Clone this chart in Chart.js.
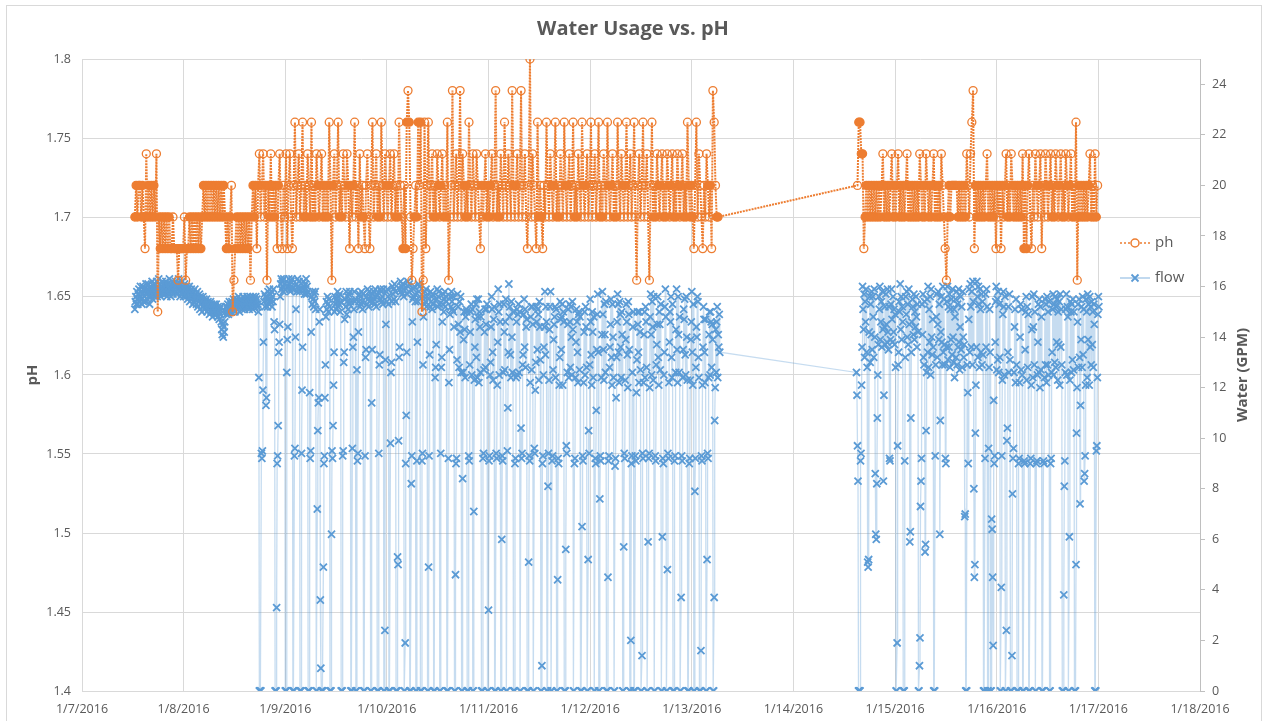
<!DOCTYPE html>
<html>
<head>
<meta charset="utf-8">
<title>Water Usage vs. pH</title>
<script src="https://cdn.jsdelivr.net/npm/chart.js@4.4.1/dist/chart.umd.min.js"></script>
<style>
  html, body { margin: 0; padding: 0; background: #fff; }
  #wrap { width: 1266px; height: 721px; }
</style>
</head>
<body>
<div id="wrap"><canvas id="chart" width="1266" height="721"></canvas></div>
<script>
// x axis labels, one per day starting 1/7/2016
const dayLabels = ['1/7/2016','1/8/2016','1/9/2016','1/10/2016','1/11/2016','1/12/2016',
                   '1/13/2016','1/14/2016','1/15/2016','1/16/2016','1/17/2016','1/18/2016'];

// pH readings, two logging runs (first reading in days after 1/7/2016, fixed interval)
const phRunStart = [0.52, 7.63];
const phInterval = 0.0125;
const phRun1 = [
  1.70,1.72,1.70,1.72,1.72,1.70,1.72,1.70,1.68,1.74,1.70,1.72,1.70,1.72,1.70,1.72,1.70,1.74,1.64,1.70,
  1.68,1.70,1.68,1.70,1.68,1.70,1.68,1.70,1.68,1.68,1.70,1.68,1.68,1.68,1.66,1.68,1.68,1.68,1.68,1.70,
  1.66,1.68,1.68,1.70,1.68,1.70,1.68,1.70,1.68,1.70,1.68,1.70,1.68,1.70,1.72,1.70,1.72,1.70,1.72,1.70,
  1.72,1.70,1.72,1.70,1.72,1.70,1.72,1.70,1.72,1.70,1.72,1.70,1.68,1.70,1.68,1.70,1.72,1.64,1.66,1.68,
  1.70,1.68,1.70,1.68,1.70,1.68,1.70,1.68,1.70,1.68,1.70,1.66,1.70,1.72,1.70,1.72,1.68,1.72,1.74,1.70,
  1.72,1.74,1.70,1.72,1.66,1.72,1.70,1.74,1.70,1.72,1.70,1.72,1.68,1.72,1.74,1.70,1.68,1.72,1.70,1.74,
  1.68,1.72,1.74,1.70,1.68,1.72,1.76,1.70,1.72,1.74,1.70,1.72,1.76,1.70,1.72,1.70,1.74,1.72,1.70,1.76,
  1.70,1.72,1.70,1.74,1.72,1.70,1.72,1.74,1.70,1.72,1.70,1.72,1.70,1.76,1.72,1.66,1.72,1.74,1.70,1.72,
  1.76,1.70,1.72,1.70,1.74,1.72,1.70,1.74,1.72,1.68,1.72,1.70,1.72,1.76,1.70,1.72,1.68,1.74,1.70,1.72,
  1.70,1.68,1.72,1.74,1.70,1.68,1.72,1.76,1.70,1.72,1.74,1.70,1.72,1.70,1.76,1.72,1.70,1.74,1.72,1.70,
  1.72,1.74,1.70,1.72,1.74,1.70,1.72,1.70,1.76,1.72,1.70,1.68,1.72,1.68,1.76,1.78,1.76,1.70,1.66,1.68,
  1.70,1.72,1.70,1.76,1.72,1.76,1.64,1.66,1.76,1.68,1.72,1.76,1.70,1.72,1.74,1.70,1.72,1.70,1.74,1.72,
  1.70,1.72,1.74,1.70,1.72,1.70,1.76,1.66,1.70,1.72,1.78,1.70,1.72,1.74,1.70,1.72,1.78,1.70,1.74,1.72,
  1.70,1.72,1.70,1.76,1.72,1.70,1.74,1.72,1.70,1.74,1.72,1.70,1.68,1.72,1.70,1.72,1.74,1.70,1.72,1.70,
  1.72,1.74,1.70,1.72,1.78,1.70,1.72,1.70,1.74,1.72,1.70,1.76,1.72,1.70,1.74,1.72,1.70,1.78,1.72,1.70,
  1.72,1.74,1.70,1.72,1.78,1.70,1.72,1.74,1.70,1.68,1.72,1.80,1.70,1.74,1.72,1.70,1.68,1.76,1.70,1.72,
  1.70,1.68,1.72,1.70,1.76,1.72,1.70,1.74,1.72,1.70,1.72,1.76,1.70,1.72,1.70,1.74,1.72,1.70,1.76,1.72,
  1.70,1.72,1.74,1.70,1.72,1.76,1.70,1.72,1.70,1.74,1.72,1.70,1.76,1.72,1.70,1.72,1.74,1.70,1.72,1.76,
  1.70,1.72,1.74,1.70,1.72,1.76,1.70,1.72,1.70,1.74,1.72,1.70,1.76,1.72,1.70,1.72,1.74,1.70,1.72,1.70,
  1.76,1.72,1.70,1.74,1.72,1.70,1.72,1.76,1.70,1.72,1.74,1.70,1.72,1.76,1.70,1.66,1.72,1.74,1.70,1.72,
  1.76,1.70,1.72,1.74,1.70,1.66,1.72,1.76,1.70,1.72,1.70,1.74,1.72,1.70,1.72,1.74,1.70,1.72,1.70,1.74,
  1.72,1.70,1.72,1.74,1.70,1.72,1.70,1.74,1.72,1.70,1.72,1.74,1.70,1.72,1.70,1.76,1.72,1.70,1.72,1.70,
  1.68,1.72,1.76,1.70,1.74,1.72,1.70,1.68,1.72,1.70,1.74,1.72,1.70,1.72,1.68,1.78,1.76,1.72,1.70,1.70
];
const phRun2 = [
  1.72,1.76,1.76,1.74,1.74,1.68,1.70,1.72,1.70,1.72,1.70,1.72,1.70,1.72,1.70,1.72,1.70,1.72,1.70,1.72,
  1.74,1.70,1.72,1.70,1.72,1.70,1.72,1.74,1.70,1.72,1.70,1.72,1.74,1.70,1.72,1.70,1.72,1.70,1.72,1.74,
  1.70,1.72,1.70,1.72,1.70,1.72,1.70,1.72,1.70,1.74,1.72,1.70,1.72,1.70,1.74,1.72,1.70,1.72,1.70,1.72,
  1.74,1.70,1.72,1.70,1.72,1.70,1.74,1.72,1.70,1.68,1.66,1.70,1.72,1.70,1.72,1.72,1.72,1.72,1.72,1.70,
  1.72,1.70,1.72,1.70,1.72,1.70,1.74,1.72,1.70,1.74,1.76,1.78,1.68,1.72,1.70,1.72,1.70,1.72,1.70,1.72,
  1.70,1.72,1.74,1.70,1.72,1.70,1.72,1.70,1.72,1.68,1.72,1.70,1.72,1.68,1.72,1.70,1.72,1.74,1.70,1.72,
  1.70,1.74,1.72,1.70,1.72,1.70,1.72,1.70,1.72,1.70,1.74,1.68,1.72,1.68,1.72,1.74,1.70,1.68,1.72,1.70,
  1.74,1.72,1.70,1.72,1.74,1.68,1.72,1.70,1.74,1.72,1.70,1.72,1.74,1.70,1.72,1.70,1.74,1.72,1.70,1.72,
  1.74,1.70,1.72,1.70,1.74,1.72,1.70,1.72,1.74,1.70,1.72,1.70,1.76,1.66,1.72,1.70,1.72,1.70,1.72,1.70,
  1.72,1.70,1.72,1.74,1.70,1.72,1.70,1.74,1.70,1.72
];

// flow readings in GPM, same two runs, finer interval
const flowRunStart = [0.52, 7.62];
const flowInterval = 0.005;
const flowRun1 = [
  15.1,15.4,15.6,15.3,15.8,15.5,15.3,15.7,15.9,15.4,15.6,16.0,15.5,15.8,15.3,15.7,16.0,15.4,15.9,15.6,
  15.8,15.4,16.1,15.7,15.5,15.9,16.1,15.6,15.8,15.3,15.9,16.0,15.6,15.8,16.2,15.5,15.9,15.7,16.0,15.6,
  16.1,15.7,15.9,16.2,15.6,16.0,15.8,16.3,15.7,15.9,16.1,15.6,16.0,15.8,16.2,15.7,15.9,16.1,15.8,16.0,
  15.7,16.2,15.9,15.6,16.1,15.8,16.0,15.7,16.3,15.9,16.1,15.6,16.0,15.8,16.2,15.7,15.9,16.1,15.8,16.0,
  16.2,15.8,16.0,15.7,16.1,15.9,16.3,15.8,16.0,15.6,16.1,15.9,15.7,16.2,15.8,16.0,15.6,15.9,16.1,15.7,
  15.9,15.6,16.0,15.8,15.5,15.9,15.7,16.0,15.4,15.8,15.6,15.9,15.5,15.7,15.3,15.8,15.6,15.4,15.9,15.5,
  15.7,15.3,15.6,15.8,15.2,15.5,15.4,15.7,15.1,15.6,15.3,15.5,15.0,15.4,15.6,15.2,15.5,15.3,15.1,15.4,
  15.2,15.5,15.0,15.3,15.4,15.1,15.3,14.9,15.2,15.4,15.0,15.3,15.1,14.8,15.2,15.0,15.3,14.9,15.2,15.0,
  15.3,14.9,15.1,14.8,15.2,15.0,14.7,15.1,14.9,15.2,14.6,14.3,14.1,14.5,14.0,14.4,14.2,14.6,15.0,15.2,
  14.9,15.2,15.0,15.3,14.9,15.1,15.4,15.0,15.2,15.3,15.0,15.4,15.1,15.3,15.5,15.1,15.3,15.0,15.4,15.2,
  15.5,15.1,15.4,15.2,15.6,15.3,15.0,15.4,15.2,15.5,15.3,15.1,15.4,15.6,15.2,15.4,15.1,15.5,15.3,15.2,
  15.4,15.6,15.2,15.5,15.3,15.1,15.4,15.6,15.2,15.5,15.3,15.4,15.1,15.6,15.3,15.5,15.2,15.4,15.6,15.3,
  15.5,15.2,
  15.3,15.0,12.4,0,0,0,0,9.4,9.2,9.5,11.9,13.8,15.4,15.7,15.2,15.6,11.3,11.6,15.6,15.2,15.8,15.5,15.3,15.9,15.4,15.7,15.5,15.8,15.2,15.6,15.4,15.9,
  14.6,14.3,0,0,0,3.3,9.0,9.3,10.5,13.4,13.8,14.5,15.6,16.1,16.3,15.9,16.2,16.0,15.8,16.3,16.1,15.9,0,0,0,12.6,13.9,14.4,16.0,16.3,16.1,15.9,
  15.8,16.2,16.0,16.3,15.9,0,0,0,9.3,9.6,14.0,15.1,16.1,15.8,16.3,16.0,15.9,16.2,15.8,0,0,0,9.4,11.9,13.6,15.9,16.2,16.0,15.7,16.1,15.9,16.3,
  15.7,16.0,15.8,0,0,0,11.8,9.2,9.5,14.2,15.6,15.3,15.8,15.5,15.2,15.7,15.4,15.8,15.1,0,0,7.2,10.3,11.4,11.6,14.6,15.1,3.6,0.9,0,0,0,
  0,4.9,9.0,9.3,11.6,12.9,14.8,15.4,15.1,15.6,15.3,15.0,15.5,15.2,0,0,0,6.2,9.5,9.2,10.5,12.1,13.4,15.0,15.6,15.3,15.1,15.5,15.4,15.8,15.2,15.6,
  15.3,15.7,15.0,15.4,0,0,0,9.3,9.5,13.0,13.4,14.7,15.5,15.2,15.8,14.9,15.4,15.6,15.1,15.7,15.3,15.8,15.4,0,0,0,9.6,13.6,14.0,15.1,15.8,15.4,
  15.5,0,0,12.7,9.1,9.4,14.2,15.4,15.7,15.2,15.6,15.3,15.8,15.4,15.1,15.7,0,0,0,9.3,13.2,13.5,15.6,15.3,15.9,15.5,15.2,15.8,15.4,15.6,0,0,
  11.4,13.5,15.7,15.4,15.8,15.5,15.3,15.9,15.6,15.2,15.7,0,0,0,9.4,12.9,13.3,15.9,15.5,15.8,15.4,15.6,15.3,15.9,0,0,2.4,13.1,14.5,15.8,15.4,15.9,
  15.6,15.3,0,0,0,9.8,12.6,13.0,15.4,16.0,15.7,15.9,15.5,16.1,15.8,15.4,0,0,0,5.3,5.0,9.9,13.2,13.6,15.9,16.2,15.8,16.0,15.7,16.1,15.9,15.6,
  0,0,1.9,9.0,10.9,13.4,15.7,16.2,16.0,15.8,16.1,0,0,0,8.2,9.3,14.6,15.5,15.9,15.6,16.0,15.7,15.4,0,0,9.1,13.8,15.4,16.1,15.8,16.0,15.6,
  0,0,0,9.1,9.4,12.9,14.8,15.6,15.3,15.8,15.4,15.9,15.2,15.6,0,0,4.9,9.3,13.3,15.2,15.8,15.4,15.6,15.1,15.7,15.3,0,0,0,12.4,12.8,13.7,
  15.5,15.9,15.2,15.6,15.8,15.3,0,0,9.4,12.8,13.2,14.6,15.3,15.7,15.0,15.5,15.8,15.2,15.6,15.4,0,0,0,9.2,12.2,13.5,14.9,15.6,15.2,15.8,15.4,15.1,
  15.6,15.0,14.4,0,0,4.6,9.0,9.2,13.1,15.7,15.2,14.5,12.8,15.4,14.2,15.6,12.6,0,0,8.4,12.6,13.9,15.0,14.3,12.4,14.8,15.1,15.0,0,0,0,9.3,
  9.1,12.9,14.2,15.0,15.3,12.5,15.1,0,0,7.1,12.3,13.6,14.7,15.3,13.2,15.5,12.4,14.8,15.5,12.2,15.0,14.4,12.6,14.8,0,0,0,9.2,9.4,12.7,14.2,15.1,
  12.8,14.5,15.1,15.3,0,0,3.2,9.1,9.3,12.5,13.0,14.4,15.6,15.1,13.4,12.3,14.7,15.2,0,0,0,9.4,9.2,12.1,13.8,15.9,15.0,12.5,15.3,14.6,0,0,
  6.0,9.3,9.1,12.6,15.3,14.2,12.7,14.6,15.5,0,0,9.5,11.2,13.4,16.1,14.8,15.2,13.3,12.4,15.4,14.0,12.6,15.0,0,0,0,9.0,9.2,12.4,14.6,15.1,12.5,
  14.9,15.3,12.6,15.0,0,0,10.4,9.2,9.4,12.9,13.3,14.9,15.5,13.6,15.1,12.8,14.4,14.7,0,0,0,5.1,9.3,9.1,12.2,14.8,15.2,12.7,15.2,14.5,0,0,
  9.6,9.4,11.9,13.0,15.2,14.6,13.5,15.1,14.9,12.3,15.4,14.4,13.1,0,0,1.0,9.0,9.3,12.5,13.6,14.4,15.8,13.3,15.2,14.6,0,0,8.1,9.4,12.3,14.3,15.2,
  15.8,0,0,9.1,9.3,12.7,13.9,14.5,14.8,15.2,12.4,15.1,0,0,4.4,9.2,9.0,12.1,13.2,15.4,14.7,13.5,14.8,15.3,12.1,15.0,14.6,0,0,0,5.6,9.7,
  9.4,12.6,14.5,15.1,12.4,15.3,14.6,12.8,15.2,14.0,12.5,15.4,14.3,0,0,9.0,9.2,12.4,13.8,15.1,14.6,13.4,12.2,14.9,15.0,12.7,14.8,0,0,0,6.5,9.3,
  9.1,12.2,14.2,15.0,12.5,15.2,14.4,12.8,0,0,5.2,10.3,9.4,12.9,15.5,14.6,13.3,12.1,15.0,14.2,12.4,14.8,0,0,9.2,9.0,11.1,13.5,14.9,15.7,13.4,0,
  0,7.6,9.3,9.1,12.4,14.1,15.8,14.9,13.5,12.3,15.3,14.1,12.6,15.4,0,0,0,4.5,9.1,9.3,12.8,13.6,14.5,15.5,13.2,12.1,15.3,14.0,12.4,0,0,8.9,
  9.2,11.6,13.2,14.6,15.7,15.3,13.4,12.2,15.4,14.9,13.6,12.4,15.0,14.1,0,0,5.7,9.4,9.2,12.3,13.9,15.3,14.6,13.3,12.0,15.4,14.9,13.5,0,0,2.0,9.0,
  9.3,12.6,14.4,15.0,0,0,0,9.3,9.1,11.8,13.1,15.0,14.5,13.4,12.2,15.0,14.2,12.7,0,0,1.4,9.4,9.2,12.2,14.1,15.0,12.4,15.2,14.6,12.8,0,0,
  5.9,9.2,9.4,12.0,14.8,15.7,14.1,12.5,15.4,14.4,12.3,15.6,0,0,9.3,9.1,12.9,13.7,14.5,15.6,13.2,12.1,15.0,14.5,12.7,15.3,0,0,6.1,9.2,9.0,12.5,
  13.4,15.2,15.9,14.8,0,0,4.8,9.4,9.2,12.2,13.8,15.0,14.6,15.6,13.2,12.4,15.3,0,0,0,9.1,9.3,12.6,14.3,15.9,13.5,12.2,15.6,14.1,12.6,14.8,0,
  0,3.7,9.3,9.1,12.4,13.5,15.1,14.7,15.5,13.3,12.5,15.6,14.0,12.3,0,0,0,9.0,9.2,12.3,13.9,14.6,15.8,13.4,12.1,15.3,0,0,7.9,9.2,12.8,14.4,
  14.0,15.6,15.4,13.2,12.4,0,0,0,1.6,9.3,9.1,12.1,13.6,15.2,14.7,13.4,12.2,14.7,0,0,5.2,9.4,9.2,12.4,14.1,15.0,12.5,15.0,14.6,12.8,14.5,13.9,
  0,0,3.7,10.7,12.0,14.3,12.6,14.6,15.2,12.4,14.1,13.6,14.9,13.4
];
const flowRun2 = [
  12.6,11.7,9.7,8.3,0,0,0,0,9.1,9.4,12.1,13.6,16.0,15.1,14.3,15.7,13.2,15.4,14.6,15.9,13.4,12.8,5.1,4.9,5.2,14.2,15.6,13.0,15.3,14.1,15.8,13.5,
  15.6,14.8,13.2,15.9,14.0,8.6,6.2,6.0,8.2,10.8,12.5,13.7,15.6,15.1,16.0,13.9,14.6,15.4,13.6,15.8,14.3,8.3,11.7,14.4,15.2,13.7,15.7,14.5,13.8,15.9,14.2,13.5,
  15.2,9.2,9.1,13.9,15.3,15.9,14.7,13.8,15.6,14.2,15.1,13.7,14.9,12.8,0,0,1.9,9.7,12.9,13.4,15.4,15.0,16.1,14.3,15.6,13.9,15.2,14.6,0,0,0,9.1,
  13.2,15.6,14.9,15.8,14.0,15.3,13.7,15.9,14.5,5.9,6.3,10.8,13.4,14.6,15.5,15.2,14.1,15.7,13.9,15.0,14.4,15.6,14.8,13.6,15.3,14.2,0,0,1.0,2.1,7.3,8.3,
  9.2,15.3,14.1,15.7,13.2,12.9,15.4,5.5,5.8,10.3,12.6,15.5,13.4,16.0,12.8,15.1,13.8,15.6,12.5,15.9,14.0,13.3,14.7,13.6,0,0,0,9.3,12.9,14.8,15.7,13.2,
  14.5,15.8,13.9,15.3,6.2,10.7,14.2,15.6,13.8,12.9,16.0,13.4,15.5,13.7,12.9,9.2,9.0,13.6,15.4,16.0,13.1,15.2,13.6,15.7,12.8,15.1,13.9,15.5,13.3,15.9,14.0,13.0,
  15.1,12.4,14.8,15.5,13.2,15.8,12.9,15.3,13.6,15.9,13.8,12.7,14.4,15.6,13.5,15.2,12.8,15.8,14.0,13.2,13.7,6.9,7.0,0,0,0,12.9,11.8,9.0,14.7,15.9,13.4,
  16.1,15.2,13.6,15.8,12.9,16.2,15.4,8.0,4.5,5.0,10.2,12.1,13.6,16.2,15.6,13.2,16.0,15.3,12.8,15.9,15.1,13.4,15.7,12.9,15.4,13.3,0,0,0,9.2,15.7,13.6,
  15.9,15.2,0,0,9.6,12.8,15.1,13.4,0,0,6.8,6.4,4.5,1.8,11.5,9.0,9.3,13.8,15.4,16.0,12.7,15.5,13.1,15.8,12.6,15.3,13.2,0,0,4.1,9.3,12.3,
  14.9,15.8,15.2,12.5,15.6,0,0,2.4,9.9,10.4,13.4,15.2,12.6,15.7,13.1,0,0,0,1.4,7.8,9.2,9.6,12.6,14.4,15.1,12.2,15.5,12.9,0,0,0,9.0,
  9.2,12.2,14.0,15.3,12.7,15.1,12.5,0,0,0,9.1,9.0,13.5,15.0,15.6,12.3,15.2,12.8,14.9,0,0,0,9.0,9.2,12.1,14.3,15.6,12.4,14.4,15.7,12.9,15.0,
  0,0,9.0,9.1,12.5,13.8,15.3,12.6,15.5,12.0,15.2,12.7,14.8,0,0,0,9.1,9.0,12.4,15.5,12.9,15.3,12.2,15.6,12.9,15.0,12.5,15.4,0,0,9.0,9.2,
  12.6,13.4,15.1,15.7,12.5,15.3,13.0,15.6,12.8,15.2,13.8,15.5,12.3,15.0,13.7,15.4,12.1,15.7,13.6,15.1,12.9,0,0,0,3.8,8.1,9.1,12.6,15.1,15.7,12.5,15.2,
  14.8,0,0,6.1,12.3,15.4,15.0,12.6,15.3,13.1,15.5,12.7,15.0,0,0,0,5.0,10.2,12.0,14.6,15.3,12.8,15.5,13.2,7.4,11.3,13.9,15.2,12.8,15.6,13.3,15.1,
  8.3,8.6,9.3,12.1,15.5,15.0,12.4,15.7,13.9,15.3,12.1,15.6,13.6,15.2,12.9,15.4,13.7,15.0,12.8,15.3,14.5,0,0,0,9.5,9.7,12.4,14.9,15.6,15.2
];

const phColor = '#ED7D31';
const flowColor = '#5B9BD5';
const textColor = '#595959';
const gridColor = '#d9d9d9';
const fontFamily = "'Open Sans', 'Liberation Sans', sans-serif";

// turn each run into {x: day, y: value} points
function toPoints(starts, interval, runs) {
  const pts = [];
  runs.forEach((vals, r) => {
    vals.forEach((v, i) => pts.push({ x: +(starts[r] + i * interval).toFixed(4), y: v }));
  });
  return pts;
}
const phPoints = toPoints(phRunStart, phInterval, [phRun1, phRun2]);
const flowPoints = toPoints(flowRunStart, flowInterval, [flowRun1, flowRun2]);

// a level the probe keeps returning to reads as a solid bar, lone readings stay hollow
function phFill(c) {
  const d = c.dataset.data, i = c.dataIndex;
  if (!d[i]) return 'rgba(255,255,255,0)';
  const y = d[i].y;
  const repeated = [-2, -1, 1, 2].some(k => d[i + k] && d[i + k].y === y);
  return repeated ? phColor : 'rgba(255,255,255,0)';
}

// frame, side titles and the legend sitting inside the plot on the right
const decorations = {
  id: 'decorations',
  beforeDraw(chart) {
    const ctx = chart.ctx;
    ctx.save();
    ctx.fillStyle = '#fff';
    ctx.fillRect(0, 0, chart.width, chart.height);
    ctx.strokeStyle = gridColor;
    ctx.lineWidth = 1;
    ctx.strokeRect(6.5, 5.5, 1255, 730);
    ctx.restore();
  },
  afterDraw(chart) {
    const ctx = chart.ctx;
    const area = chart.chartArea;
    const midY = (area.top + area.bottom) / 2;
    ctx.save();
    ctx.fillStyle = textColor;
    ctx.font = 'bold 15px ' + fontFamily;
    ctx.textAlign = 'center';
    ctx.textBaseline = 'middle';
    ctx.translate(33, midY);
    ctx.rotate(-Math.PI / 2);
    ctx.fillText('pH', 0, 0);
    ctx.restore();

    ctx.save();
    ctx.fillStyle = textColor;
    ctx.font = 'bold 15px ' + fontFamily;
    ctx.textAlign = 'center';
    ctx.textBaseline = 'middle';
    ctx.translate(1243, midY);
    ctx.rotate(-Math.PI / 2);
    ctx.fillText('Water (GPM)', 0, 0);
    ctx.restore();

    // legend
    ctx.save();
    ctx.font = '15px ' + fontFamily;
    ctx.textBaseline = 'middle';
    const lx = 1120, ly1 = 243, ly2 = 278;
    ctx.strokeStyle = phColor;
    ctx.lineWidth = 1.5;
    ctx.setLineDash([2, 2]);
    ctx.beginPath(); ctx.moveTo(lx, ly1); ctx.lineTo(lx + 30, ly1); ctx.stroke();
    ctx.setLineDash([]);
    ctx.beginPath(); ctx.arc(lx + 15, ly1, 4, 0, Math.PI * 2);
    ctx.fillStyle = '#fff'; ctx.fill(); ctx.stroke();
    ctx.fillStyle = textColor;
    ctx.fillText('ph', lx + 35, ly1);

    ctx.strokeStyle = 'rgba(91,155,213,0.5)';
    ctx.beginPath(); ctx.moveTo(lx, ly2); ctx.lineTo(lx + 30, ly2); ctx.stroke();
    ctx.strokeStyle = flowColor;
    ctx.lineWidth = 1.8;
    ctx.beginPath();
    ctx.moveTo(lx + 11.5, ly2 - 3.5); ctx.lineTo(lx + 18.5, ly2 + 3.5);
    ctx.moveTo(lx + 18.5, ly2 - 3.5); ctx.lineTo(lx + 11.5, ly2 + 3.5);
    ctx.stroke();
    ctx.fillText('flow', lx + 35, ly2);
    ctx.restore();
  }
};

new Chart(document.getElementById('chart'), {
  type: 'line',
  data: {
    datasets: [
      {
        label: 'ph',
        data: phPoints,
        yAxisID: 'y',
        borderColor: phColor,
        borderWidth: 2,
        borderDash: [2, 1],
        tension: 0,
        pointStyle: 'circle',
        pointRadius: 4,
        pointBorderWidth: 1.3,
        pointBorderColor: phColor,
        pointBackgroundColor: phFill
      },
      {
        label: 'flow',
        data: flowPoints,
        yAxisID: 'y1',
        borderColor: 'rgba(91,155,213,0.35)',
        borderWidth: 1.3,
        tension: 0,
        pointStyle: 'crossRot',
        pointRadius: 5,
        pointBorderWidth: 1.8,
        pointBorderColor: flowColor,
        pointBackgroundColor: flowColor
      }
    ]
  },
  options: {
    responsive: false,
    animation: false,
    events: [],
    layout: { padding: 0 },
    plugins: {
      legend: { display: false },
      tooltip: { enabled: false },
      title: {
        display: true,
        text: 'Water Usage vs. pH',
        color: textColor,
        font: { family: fontFamily, size: 20, weight: 'bold' },
        padding: { top: 17, bottom: 18 }
      }
    },
    scales: {
      x: {
        type: 'linear',
        min: 0,
        max: 11,
        ticks: {
          stepSize: 1,
          autoSkip: false,
          maxRotation: 0,
          padding: 11,
          color: textColor,
          font: { family: fontFamily, size: 12.5 },
          callback: v => dayLabels[v] ?? ''
        },
        grid: { color: gridColor, drawTicks: false },
        border: { display: false },
        afterFit: s => { s.height = 30; }
      },
      y: {
        position: 'left',
        min: 1.4,
        max: 1.8,
        ticks: {
          stepSize: 0.05,
          padding: 11,
          color: textColor,
          font: { family: fontFamily, size: 12.5 },
          callback: v => String(+v.toFixed(2))
        },
        grid: { color: gridColor, drawTicks: false },
        border: { display: false },
        afterFit: s => { s.width = 82; }
      },
      y1: {
        position: 'right',
        min: 0,
        max: 25,
        ticks: {
          stepSize: 2,
          padding: 7,
          color: textColor,
          font: { family: fontFamily, size: 12.5 }
        },
        afterBuildTicks: s => { s.ticks = s.ticks.filter(t => t.value % 2 === 0); },
        grid: { drawOnChartArea: false, drawTicks: true, tickLength: 5, color: '#bfbfbf' },
        border: { display: true, color: '#bfbfbf' },
        afterFit: s => { s.width = 66; }
      }
    }
  },
  plugins: [decorations]
});
</script>
</body>
</html>
